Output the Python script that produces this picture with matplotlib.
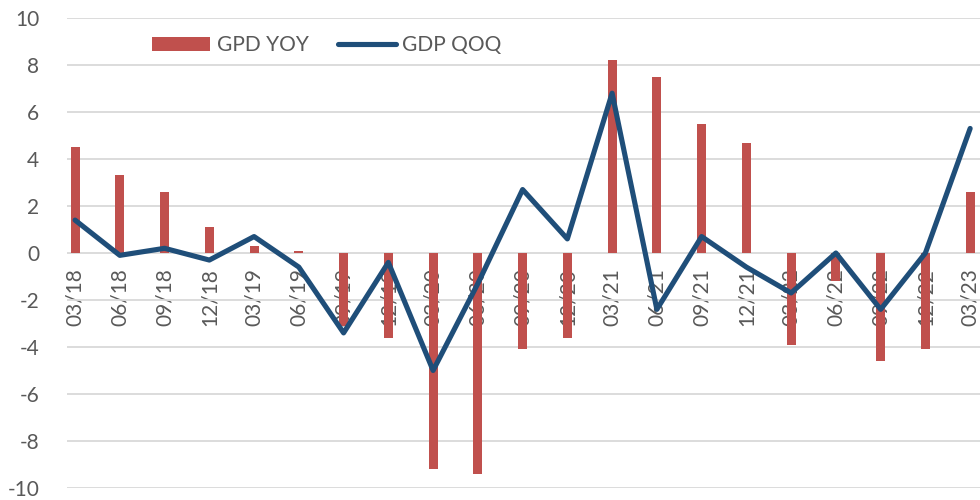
import numpy as np
import matplotlib.pyplot as plt

quarters = ['03/18', '06/18', '09/18', '12/18', '03/19', '06/19', '09/19', '12/19',
            '03/20', '06/20', '09/20', '12/20', '03/21', '06/21', '09/21', '12/21',
            '03/22', '06/22', '09/22', '12/22', '03/23']
gdp_yoy = [4.5, 3.3, 2.6, 1.1, 0.3, 0.1, -3.1, -3.6, -9.2, -9.4, -4.1, -3.6,
           8.2, 7.5, 5.5, 4.7, -3.9, -1.2, -4.6, -4.1, 2.6]
gdp_qoq = [1.4, -0.1, 0.2, -0.3, 0.7, -0.6, -3.4, -0.4, -5.0, -1.3, 2.7, 0.6,
           6.8, -2.4, 0.7, -0.6, -1.7, 0.0, -2.4, 0.0, 5.3]
yticks = np.arange(-10, 11, 2)

plt.rcParams['font.family'] = ['Lato', 'DejaVu Sans']
grey = '#595959'

fig = plt.figure(figsize=(9.8, 5), dpi=100)
ax = fig.add_axes([67/980, 12/500, 1 - 67/980, 470/500])

x = np.arange(len(quarters))
bars = ax.bar(x, gdp_yoy, width=0.2, color='#C0504D', zorder=2, label='GPD YOY')
line, = ax.plot(x, gdp_qoq, color='#1F4E79', lw=3.7, zorder=3, label='GDP QOQ',
                solid_capstyle='round', solid_joinstyle='round')

ax.set_ylim(-10, 10)
ax.set_xlim(-0.18, 20.22)
ax.set_yticks(yticks)
ax.set_yticklabels([str(v) for v in yticks])
ax.grid(axis='y', color='#D9D9D9', lw=1.3, zorder=0)
ax.set_axisbelow(True)

for s in ['top', 'right', 'left']:
    ax.spines[s].set_visible(False)
ax.spines['bottom'].set_position(('data', 0))
ax.spines['bottom'].set_visible(False)

ax.set_xticks(x)
ax.set_xticklabels(quarters, rotation=90, va='top', ha='center')
ax.tick_params(axis='x', length=0, pad=11, labelsize=15, labelcolor=grey)
ax.tick_params(axis='y', length=0, pad=20, labelsize=15, labelcolor=grey)

fig.legend([bars, line], ['GPD YOY', 'GDP QOQ'], loc='center left',
           bbox_to_anchor=(152/980, 1 - 45/500), ncol=2,
           frameon=False, fontsize=15, handlelength=2.8, handleheight=0.65,
           handletextpad=0.3, columnspacing=1.4, borderpad=0, borderaxespad=0,
           labelcolor=grey)

fig.savefig('out.png', dpi=100)
